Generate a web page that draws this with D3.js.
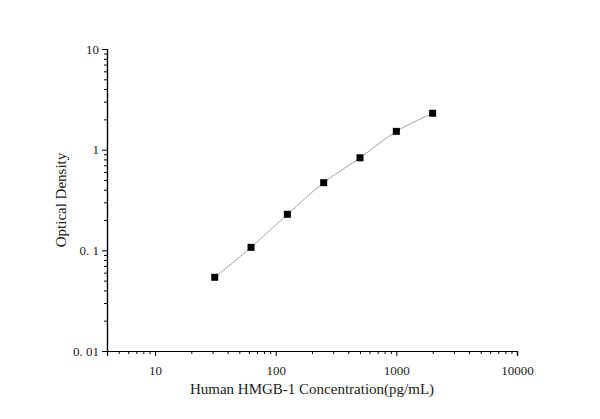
<!DOCTYPE html><html><head><script src="https://cdn.jsdelivr.net/npm/d3@7"></script>
<style>body{margin:0;background:#fff}text{font-family:"Liberation Serif","DejaVu Serif",serif;fill:#222}</style></head><body>
<svg id="c" width="600" height="419"></svg>
<script>
const conc=[31.25,62.5,125,250,500,1000,2000];
const od=[0.054,0.107,0.228,0.47,0.83,1.52,2.3];
const xTicks=[10,100,1000,10000];
const yTicks=[0.01,0.1,1,10];
const svg=d3.select("#c");
const x=d3.scaleLog().domain([4,10000]).range([107,517]);
const y=d3.scaleLog().domain([0.01,10]).range([351,49]);
function minors(lo,hi){const a=[];for(let e=lo;e<hi;e++)for(let k=2;k<=9;k++)a.push(k*Math.pow(10,e));return a;}
const xm=minors(0,4).filter(v=>v>=4&&v<=10000), ym=minors(-2,1);
svg.append("g").attr("transform","translate(0,351)").call(d3.axisBottom(x).tickValues(xm).tickSize(3).tickFormat(""));
const gx=svg.append("g").attr("transform","translate(0,351)");
gx.call(d3.axisBottom(x).tickValues(xTicks).tickSize(5).tickFormat(d3.format("d")));
svg.append("g").attr("transform","translate(107,0)").call(d3.axisLeft(y).tickValues(ym).tickSize(3).tickFormat(""));
const gy=svg.append("g").attr("transform","translate(107,0)");
gy.call(d3.axisLeft(y).tickValues(yTicks).tickSize(5).tickFormat(d=>d<1?String(d).replace(".",". "):String(d)));
svg.selectAll(".domain").attr("stroke","#000").attr("stroke-width",1.2);
svg.selectAll(".tick line").attr("stroke","#000");
svg.selectAll(".tick text").style("font-size","13px").style("font-family","Liberation Serif").attr("fill","#222");
gx.selectAll(".tick text").attr("dy","1.2em");
svg.append("path").datum(conc.map((c,i)=>[c,od[i]]))
 .attr("d",d3.line().x(d=>x(d[0])).y(d=>y(d[1])).curve(d3.curveCatmullRom))
 .attr("fill","none").attr("stroke","#888").attr("stroke-width",0.8);
svg.selectAll("rect.p").data(conc).join("rect").attr("class","p")
 .attr("x",d=>x(d)-3.5).attr("y",(d,i)=>y(od[i])-3.5).attr("width",7).attr("height",7).attr("fill","#000");
svg.append("text").attr("x",312).attr("y",394).attr("text-anchor","middle").style("font-size","15px").text("Human HMGB-1 Concentration(pg/mL)");
svg.append("text").attr("transform","translate(66,200) rotate(-90)").attr("text-anchor","middle").style("font-size","15px").text("Optical Density");
</script></body></html>
